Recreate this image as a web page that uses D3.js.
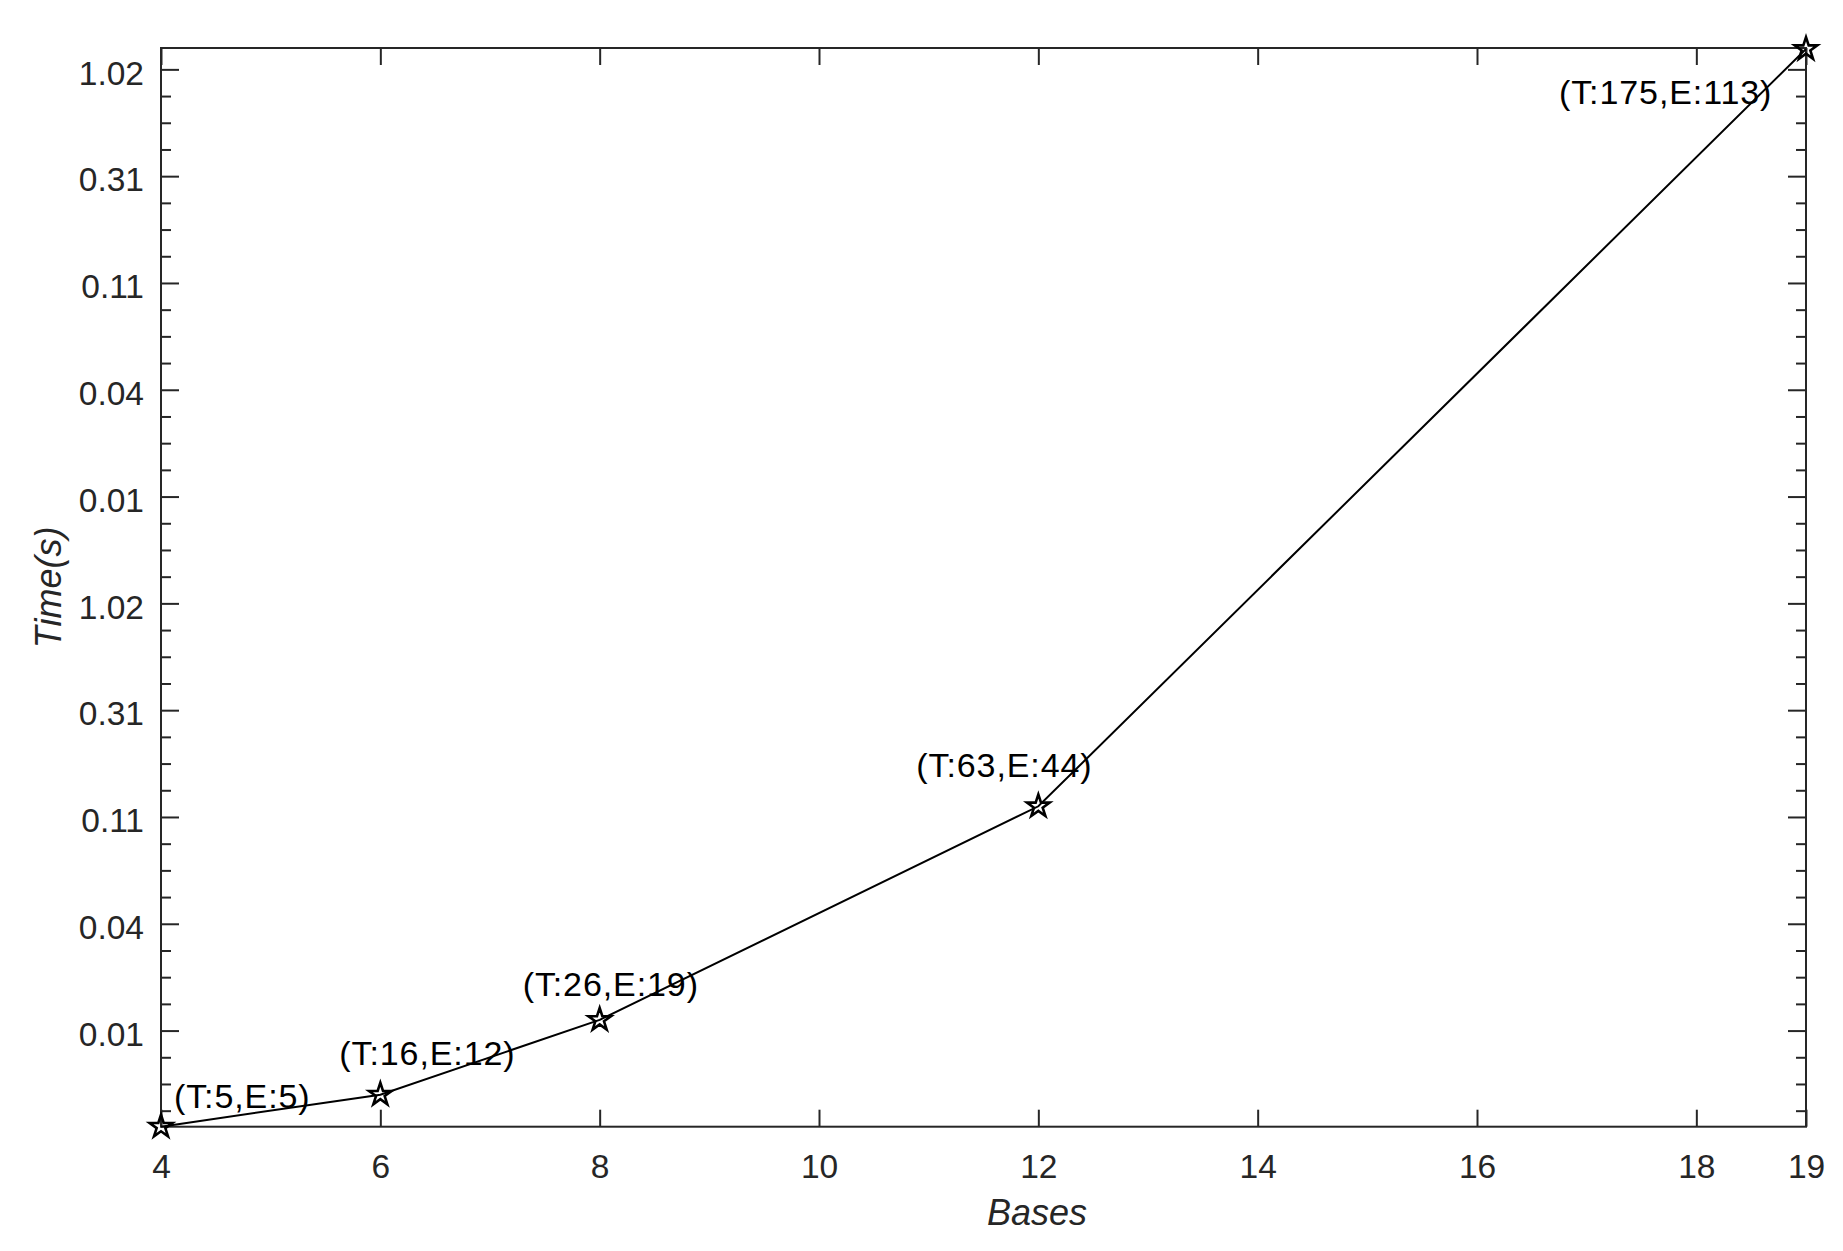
<!DOCTYPE html>
<html>
<head>
<meta charset="utf-8">
<script src="https://cdn.jsdelivr.net/npm/d3@7"></script>
<style>
  html, body { margin: 0; padding: 0; background: #fff; }
  svg { display: block; }
  text { font-family: "Liberation Sans", Arial, sans-serif; }
</style>
</head>
<body>
<script>
// ---- data ----
const bases = [4, 6, 8, 12, 19];
// vertical level of each point, in units of the y tick index (0 = first "0.01" tick)
const timeLevel = [-0.9, -0.6, 0.1, 2.1, 9.19];
const annotations = ["(T:5,E:5)", "(T:16,E:12)", "(T:26,E:19)", "(T:63,E:44)", "(T:175,E:113)"];
const xTicks = [4, 6, 8, 10, 12, 14, 16, 18, 19];
const yTickValues = [0, 1, 2, 3, 4, 5, 6, 7, 8, 9];
const yTickLabels = ["0.01", "0.04", "0.11", "0.31", "1.02", "0.01", "0.04", "0.11", "0.31", "1.02"];
const xLabel = "Bases";
const yLabel = "Time(s)";

// ---- layout ----
const W = 1843, H = 1251;
const margin = { left: 161, top: 48, right: 37, bottom: 124.3 };
const iw = W - margin.left - margin.right;
const ih = H - margin.top - margin.bottom;
const axisColor = "#262626";
// annotation offsets (px) from each marker
const labelOffsets = [[13, -19], [-41, -30], [-77, -24], [-122, -29], [-247, 55]];

const svg = d3.select("body").append("svg").attr("width", W).attr("height", H);
const g = svg.append("g").attr("transform", `translate(${margin.left},${margin.top})`);

const x = d3.scaleLinear().domain([4, 19]).range([0, iw]);
const y = d3.scaleLinear().domain([-0.9, 9.2]).range([ih, 0]);

const minorTicks = d3.range(-0.75, 9.2, 0.25).filter(v => Math.abs(v - Math.round(v)) > 1e-6);

function styleAxis(sel) {
  sel.select(".domain").remove();
  sel.selectAll("line").attr("stroke", axisColor).attr("stroke-width", 2);
  sel.selectAll("text").attr("fill", axisColor).style("font-size", "33.5px");
}

// bottom axis
g.append("g").attr("transform", `translate(0,${ih})`)
  .call(d3.axisBottom(x).tickValues(xTicks).tickFormat(d3.format("d")).tickSizeInner(-17).tickSizeOuter(0).tickPadding(27.3))
  .call(styleAxis);
// top axis (ticks only)
g.append("g")
  .call(d3.axisTop(x).tickValues(xTicks).tickFormat("").tickSizeInner(-17).tickSizeOuter(0))
  .call(styleAxis);
// left axis major
const yl = g.append("g")
  .call(d3.axisLeft(y).tickValues(yTickValues).tickFormat((d, i) => yTickLabels[i]).tickSizeInner(-18).tickSizeOuter(0).tickPadding(17))
  .call(styleAxis);
yl.selectAll("text").attr("dy", "0.44em");
// left axis minor
g.append("g")
  .call(d3.axisLeft(y).tickValues(minorTicks).tickFormat("").tickSizeInner(-10).tickSizeOuter(0))
  .call(styleAxis);
// right axis major + minor
g.append("g").attr("transform", `translate(${iw},0)`)
  .call(d3.axisRight(y).tickValues(yTickValues).tickFormat("").tickSizeInner(-18).tickSizeOuter(0))
  .call(styleAxis);
g.append("g").attr("transform", `translate(${iw},0)`)
  .call(d3.axisRight(y).tickValues(minorTicks).tickFormat("").tickSizeInner(-10).tickSizeOuter(0))
  .call(styleAxis);

// frame
g.append("rect").attr("x", 0).attr("y", 0).attr("width", iw).attr("height", ih)
  .attr("fill", "none").attr("stroke", axisColor).attr("stroke-width", 2);

// line
const pts = bases.map((b, i) => [b, timeLevel[i]]);
g.append("path").datum(pts)
  .attr("fill", "none").attr("stroke", "#000").attr("stroke-width", 2)
  .attr("d", d3.line().x(d => x(d[0])).y(d => y(d[1])));

// markers
const star = d3.symbol().type(d3.symbolStar).size(160);
g.selectAll(".mk").data(pts).join("path").attr("class", "mk")
  .attr("transform", d => `translate(${x(d[0])},${y(d[1])})`)
  .attr("d", star)
  .attr("fill", "none").attr("stroke", "#000").attr("stroke-width", 2.6);

// annotations
g.selectAll(".ann").data(pts).join("text").attr("class", "ann")
  .attr("x", (d, i) => x(d[0]) + labelOffsets[i][0])
  .attr("y", (d, i) => y(d[1]) + labelOffsets[i][1])
  .attr("fill", "#000").style("font-size", "34px").style("letter-spacing", "0.9px")
  .text((d, i) => annotations[i]);

// axis titles
svg.append("text")
  .attr("x", margin.left + iw * 0.5325).attr("y", 1225)
  .attr("text-anchor", "middle").attr("fill", axisColor)
  .style("font-size", "36px").style("font-style", "italic")
  .text(xLabel);
svg.append("text")
  .attr("transform", `translate(60.5,${margin.top + ih / 2}) rotate(-90)`)
  .attr("text-anchor", "middle").attr("fill", axisColor)
  .style("font-size", "36px").style("font-style", "italic")
  .text(yLabel);
</script>
</body>
</html>
